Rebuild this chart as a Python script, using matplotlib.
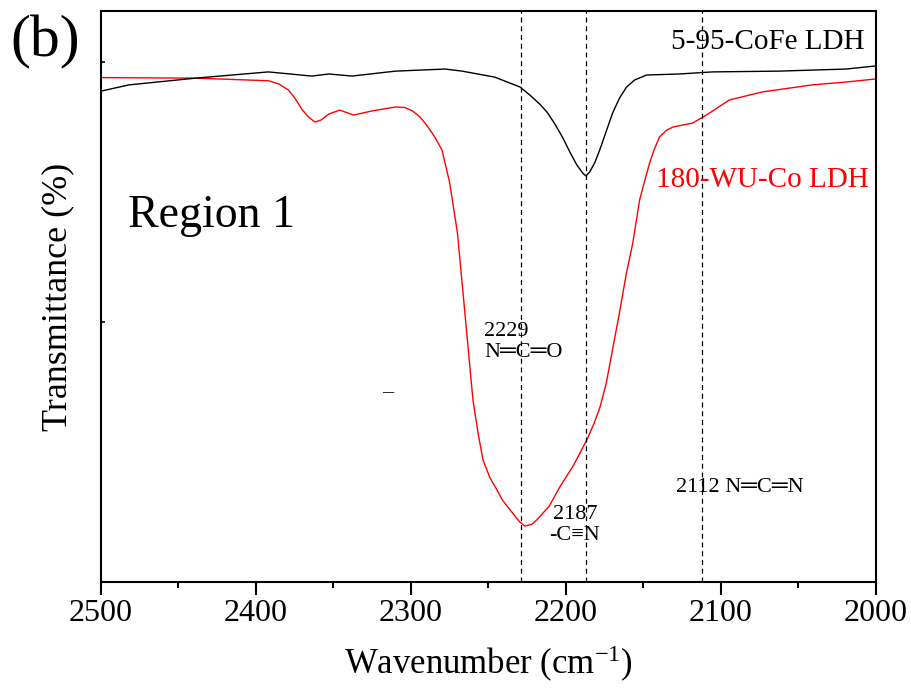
import numpy as np
from matplotlib import pyplot as plt

plt.rcParams['font.family'] = ['Liberation Serif', 'DejaVu Serif']
plt.rcParams['mathtext.fontset'] = 'custom'
plt.rcParams['mathtext.rm'] = 'Liberation Serif'
plt.rcParams['mathtext.it'] = 'Liberation Serif:italic'

# 180-WU-Co LDH (red)
wu_x = [2500, 2439, 2392, 2385, 2379, 2375, 2370, 2366, 2362, 2358, 2353, 2346,
        2337, 2325, 2310, 2304, 2299, 2294, 2289, 2285, 2280, 2275, 2270, 2266,
        2260, 2256.5, 2253.5, 2249, 2244.5, 2241, 2236, 2230, 2226.5, 2222, 2219,
        2211, 2204, 2195, 2186.6, 2182, 2178, 2174, 2170, 2165.5, 2161, 2157,
        2152.5, 2149, 2146, 2143, 2139.6, 2135, 2131, 2118.4, 2109.4, 2094.6,
        2073.3, 2041.2, 2019.3, 2000]
wu_y = [1.940, 1.938, 1.928, 1.915, 1.892, 1.862, 1.815, 1.788, 1.769, 1.777, 1.800, 1.815,
        1.796, 1.812, 1.827, 1.825, 1.812, 1.788, 1.750, 1.715, 1.662, 1.535, 1.342, 1.085,
        0.700, 0.565, 0.469, 0.400, 0.354, 0.315, 0.277, 0.232, 0.215, 0.222, 0.238,
        0.290, 0.365, 0.450, 0.546, 0.608, 0.673, 0.765, 0.892, 1.035, 1.188, 1.300,
        1.469, 1.548, 1.612, 1.665, 1.712, 1.738, 1.750, 1.765, 1.796, 1.854,
        1.885, 1.912, 1.923, 1.935]

# 5-95-CoFe LDH (black)
cofe_x = [2500, 2482, 2439, 2392, 2364, 2353, 2338, 2310, 2278, 2267, 2246, 2229.7,
          2223.3, 2216.9, 2212.3, 2207.2, 2202, 2197.5, 2193, 2189.2, 2187.2,
          2184.7, 2181.5, 2178.2, 2174.4, 2169.9, 2165.4, 2160.9, 2155.7, 2148,
          2127, 2105.5, 2062.5, 2019.3, 2000]
cofe_y = [1.888, 1.912, 1.938, 1.962, 1.946, 1.954, 1.946, 1.965, 1.973, 1.965, 1.942, 1.904,
          1.873, 1.838, 1.808, 1.762, 1.708, 1.654, 1.604, 1.573, 1.562,
          1.577, 1.612, 1.662, 1.727, 1.804, 1.862, 1.904, 1.931, 1.950,
          1.954, 1.962, 1.965, 1.973, 1.985]

peaks = [2229, 2187, 2112]

fig = plt.figure(figsize=(9.12, 6.92), dpi=100)
ax = fig.add_axes([0.1107, 0.159, 0.8498, 0.825])

ax.plot(wu_x, wu_y, color='#ff0000', lw=1.0)
ax.plot(cofe_x, cofe_y, color='black', lw=1.0)
for p in peaks:
    ax.axvline(p, color='black', lw=0.9, ls=(0, (4, 3)))

ax.set_xlim(2500, 2000)
ax.set_ylim(0, 2.196)
ax.set_xticks([2500, 2400, 2300, 2200, 2100, 2000])
ax.set_xticks(np.arange(2450, 2000, -100), minor=True)
ax.set_yticks([0, 1, 2])
ax.set_yticklabels([])
ax.tick_params(axis='x', which='major', direction='out', length=9, width=1.5,
               labelsize=23, pad=3)
ax.tick_params(axis='x', which='minor', direction='out', length=4.5, width=1.5)
ax.tick_params(axis='y', direction='in', length=3, width=1.2)
for s in ax.spines.values():
    s.set_linewidth(1.5)

ax.set_xlabel('Wavenumber (cm$^{\\mathrm{-1}}$)', fontsize=25, labelpad=12)
ax.set_ylabel('Transmittance (%)', fontsize=26, va='center')
ax.yaxis.set_label_coords(-0.056, 0.5)

ax.text(2007.7, 2.077, '5-95-CoFe LDH', fontsize=21, ha='right', va='center')
ax.text(2004.5, 1.546, '180-WU-Co LDH', fontsize=21, ha='right', va='center',
        color='#ff0000')
ax.text(2482.6, 1.41, 'Region 1', fontsize=33, ha='left', va='center')
ax.text(2252.9, 0.923, '2229\nN═C═O', fontsize=16, ha='left', va='center',
        linespacing=1.1)
ax.text(2194.3, 0.219, '2187\n-C≡N', fontsize=16, ha='center', va='center',
        linespacing=1.1)
ax.text(2129.3, 0.365, '2112 N═C═N', fontsize=16, ha='left', va='center')
ax.text(2315.3, 0.73, '–', fontsize=16, ha='center', va='center')

fig.text(45 / 912, 1 - 42 / 692, '(b)', fontsize=43, ha='center', va='center')

fig.savefig('out.png', dpi=100)
